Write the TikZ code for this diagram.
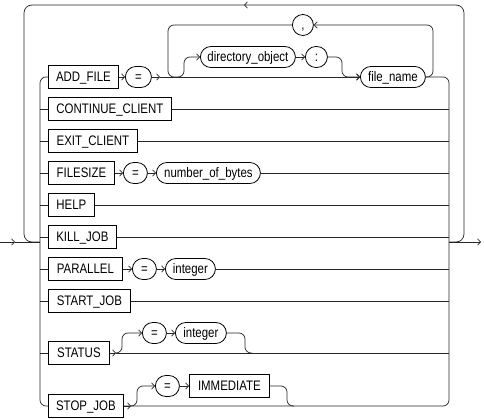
\documentclass[tikz,border=0pt]{standalone}
\usepackage{fontspec}
\setmainfont[FakeStretch=0.83]{Liberation Sans}
\usetikzlibrary{arrows.meta,shapes.misc}
\begin{document}
\begin{tikzpicture}[x=1pt,y=-1pt,
  line width=0.7pt,
  conn/.style={draw=black!85},
  txt/.style={font=\fontsize{13.8}{15}\selectfont, text height=10pt, text depth=1pt, inner xsep=0pt, inner ysep=0pt, anchor=west},
  kw/.style={txt, draw=black, line width=0.8pt, rectangle, minimum height=23pt},
  nt/.style={txt, draw=black, line width=0.8pt, rounded rectangle, minimum height=21pt},
  ar/.style={conn, -{Straight Barb[length=3pt,width=6.5pt,line width=0.7pt]}},
  rc/.style={rounded corners=6pt},
  rcb/.style={rounded corners=8pt}]
\useasboundingbox (0,0) rectangle (484,419);

% rails
\coordinate (railL) at (40,242);
\coordinate (railR) at (449,242);
\coordinate (loopL) at (24,5);
\coordinate (loopR) at (464,5);
\coordinate (topmid) at (244,5);
\coordinate (start) at (0,242);
\coordinate (startarr) at (15,242);
\coordinate (finish) at (481,242);

% ADD_FILE row
\node[kw, minimum width=70pt] (addfile) at (48,77) {ADD\_FILE};
\node[nt, minimum width=26pt] (eqA) at (125,77) {=};
\coordinate (jA) at (160,77);
\coordinate (jB) at (176,77);
\node[nt, minimum width=95pt] (dirobj) at (200,57) {directory\_object};
\node[nt, minimum width=22pt] (colon) at (305,57) {:};
\node[nt, minimum width=65pt] (fname) at (360,77) {file\_name};
\node[nt, minimum width=20pt] (comma) at (292,25) {,};

% other rows
\node[kw, minimum width=123pt] (contclient) at (48,109) {CONTINUE\_CLIENT};
\node[kw, minimum width=89pt] (exitclient) at (48,141) {EXIT\_CLIENT};
\node[kw, minimum width=66pt] (filesize) at (48,173) {FILESIZE};
\node[nt, minimum width=24pt] (eqF) at (123,173) {=};
\node[nt, minimum width=104pt] (nbytes) at (156,173) {number\_of\_bytes};
\node[kw, minimum width=46pt] (help) at (48,205) {HELP};
\node[kw, minimum width=68pt] (killjob) at (48,237) {KILL\_JOB};
\node[kw, minimum width=74pt] (parallel) at (48,269) {PARALLEL};
\node[nt, minimum width=24pt] (eqP) at (132,269) {=};
\node[nt, minimum width=50pt] (intP) at (165,269) {integer};
\node[kw, minimum width=82pt] (startjob) at (48,301) {START\_JOB};
\node[kw, minimum width=61pt] (status) at (48,353) {STATUS};
\coordinate (sArr) at (116,353);
\node[nt, minimum width=24pt] (eqS) at (142,333) {=};
\node[nt, minimum width=51pt] (intS) at (175,333) {integer};
\node[kw, minimum width=75pt] (stopjob) at (48,406) {STOP\_JOB};
\coordinate (jArr) at (131,406);
\node[nt, minimum width=24pt] (eqJ) at (155,386) {=};
\node[kw, minimum width=80pt] (immediate) at (189,386) {IMMEDIATE};

% entry and outer loop
\draw[ar] (start) -- (startarr);
\draw[conn] (startarr) -- (railL);
\draw[ar, rcb] (railR) -- (loopR |- railR) -- (loopR) -- (topmid);
\draw[conn, rcb] (topmid) -- (loopL) -- (loopL |- railL) -- (railL);
\draw[ar] (railR) -- (finish);

% left rail
\draw[conn, rc] (addfile.west) -- (railL |- addfile.west) -- (railL |- stopjob.west) -- (stopjob.west);
% right rail
\draw[conn, rc] (fname.east) -- (railR |- fname.east) -- (railR |- stopjob.east) -- (stopjob.east);

% ADD_FILE internals
\draw[ar] (addfile.east) -- (eqA.west);
\draw[ar] (eqA.east) -- (jA);
\draw[ar] (jA) -- (fname.west);
\draw[ar, rc] (jB) -- (184,77) -- (184,57) -- (dirobj.west);
\draw[ar] (dirobj.east) -- (colon.west);
\draw[ar, rc] (colon.east) -- (342,57) -- (342,77) -- (fname.west);
\draw[ar, rc] (fname.east) -- (433,77) -- (433,25) -- (comma.east);
\draw[conn, rc] (comma.west) -- (168,25) -- (168,77) -- (jB);

% simple rows
\foreach \n in {contclient,exitclient,help,killjob,startjob}{
  \draw[conn] (railL |- \n.west) -- (\n.west);
  \draw[conn] (\n.east) -- (railR |- \n.east);
}
\foreach \n in {filesize,parallel,status}{
  \draw[conn] (railL |- \n.west) -- (\n.west);
}

% FILESIZE
\draw[ar] (filesize.east) -- (eqF.west);
\draw[ar] (eqF.east) -- (nbytes.west);
\draw[conn] (nbytes.east) -- (railR |- nbytes.east);

% PARALLEL
\draw[ar] (parallel.east) -- (eqP.west);
\draw[ar] (eqP.east) -- (intP.west);
\draw[conn] (intP.east) -- (railR |- intP.east);

% STATUS
\draw[ar] (status.east) -- (sArr);
\draw[conn] (sArr) -- (railR |- sArr);
\draw[ar, rc] (sArr) -- (122,353) -- (122,333) -- (eqS.west);
\draw[ar] (eqS.east) -- (intS.west);
\draw[conn, rc] (intS.east) -- (245,333) -- (245,353) -- (252,353);

% STOP_JOB
\draw[ar] (stopjob.east) -- (jArr);
\draw[ar, rc] (jArr) -- (137,406) -- (137,386) -- (eqJ.west);
\draw[ar] (eqJ.east) -- (immediate.west);
\draw[conn, rc] (immediate.east) -- (287,386) -- (287,406) -- (294,406);
\end{tikzpicture}
\end{document}
